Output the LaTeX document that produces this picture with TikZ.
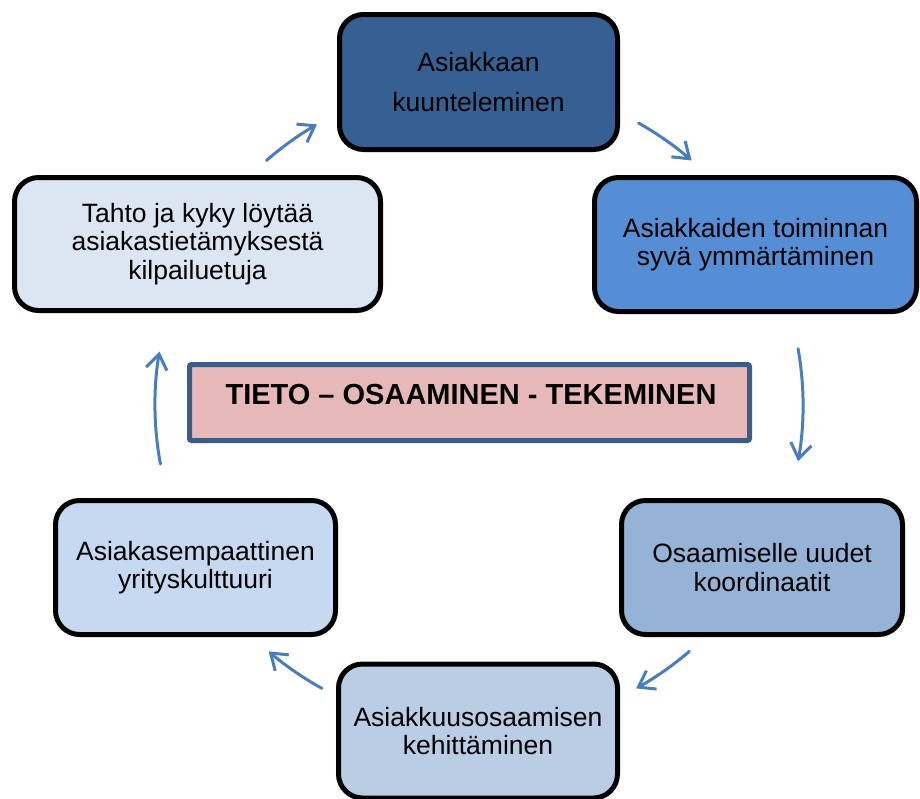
\documentclass[tikz,border=0pt]{standalone}
\usepackage{fontspec}
\setmainfont{Liberation Sans}
\usetikzlibrary{arrows.meta,calc}

\definecolor{listenfill}{HTML}{376092}
\definecolor{understandfill}{HTML}{558ED5}
\definecolor{coordfill}{HTML}{95B3D7}
\definecolor{developfill}{HTML}{B9CDE5}
\definecolor{culturefill}{HTML}{C6D9F1}
\definecolor{willfill}{HTML}{DCE6F2}
\definecolor{corefill}{HTML}{E6B9B8}
\definecolor{coreline}{HTML}{385D8A}
\definecolor{arrowblue}{HTML}{4A7EBB}

\begin{document}
\begin{tikzpicture}[x=1pt,y=1pt,
  stage/.style={draw=black, line width=5pt, rounded corners=24pt,
    align=center, text=black, inner sep=0pt,
    font=\fontsize{26.5}{28.5}\selectfont},
  core/.style={draw=coreline, fill=corefill, line width=5pt,
    rounded corners=2pt, inner sep=0pt},
  flow/.style={draw=arrowblue, line width=3pt, line cap=round,
    -{Straight Barb[length=15pt,width=21pt]}}]

\useasboundingbox (0,0) rectangle (920,-798);

% the six stages of the cycle
\node[stage, fill=listenfill, minimum width=278, minimum height=135,
  font=\fontsize{26.5}{40}\selectfont]
  (listen) at (478.5,-82) {Asiakkaan\\kuunteleminen};
\node[stage, fill=understandfill, minimum width=322, minimum height=134]
  (understand) at (755.5,-244.5) {Asiakkaiden toiminnan\\syvä ymmärtäminen};
\node[stage, fill=coordfill, minimum width=281, minimum height=134]
  (coords) at (762,-567.5) {Osaamiselle uudet\\koordinaatit};
\node[stage, fill=developfill, minimum width=279, minimum height=134]
  (develop) at (478,-731) {Asiakkuusosaamisen\\kehittäminen};
\node[stage, fill=culturefill, minimum width=280, minimum height=134]
  (culture) at (195.5,-567.5) {Asiakasempaattinen\\yrityskulttuuri};
\node[stage, fill=willfill, minimum width=366, minimum height=133]
  (will) at (197.5,-244) {Tahto ja kyky löytää\\asiakastietämyksestä\\kilpailuetuja};

% central theme
\node[core, minimum width=560, minimum height=76] (core) at (469.5,-402.5) {};
\node[font=\fontsize{29}{34}\selectfont\bfseries, inner sep=0pt]
  (coretext) at (471,-395) {TIETO – OSAAMINEN - TEKEMINEN};

% circular arrows around the hub
\coordinate (hub) at (479,-405);
\foreach \name/\a/\b in {a1/131/120, a2/60.5/49, a3/10/-10,
                         a4/-49.5/-61, a5/-119/-130.5, a6/190.5/170.5}{
  \coordinate (\name) at ($(hub)+(\a:324)$);
  \draw[flow] (\name) arc[start angle=\a, end angle=\b, radius=324];
}

\end{tikzpicture}
\end{document}
